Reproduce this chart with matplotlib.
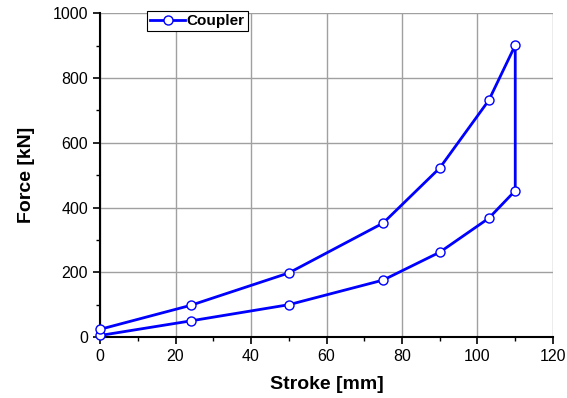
import matplotlib.pyplot as plt
from matplotlib.ticker import MultipleLocator

plt.rcParams['font.family'] = ['Liberation Sans', 'DejaVu Sans']

# loading then unloading path of the coupler
stroke = [0, 24, 50, 75, 90, 103, 110, 110, 103, 90, 75, 50, 24, 0]
force = [5, 50, 100, 176, 262, 367, 452, 901, 731, 522, 352, 198, 98, 24]

fig = plt.figure(figsize=(5.67, 3.98), dpi=100)
ax = fig.add_axes([0.1764, 0.153, 0.7989, 0.814])

ax.plot(stroke, force, color='#0000ff', lw=2.0, marker='o', ms=6.5,
        mfc='white', mec='#0000ff', mew=1.0, label='Coupler', zorder=3,
        clip_on=False)

ax.set_xlim(0, 120)
ax.set_ylim(0, 1000)
ax.xaxis.set_major_locator(MultipleLocator(20))
ax.xaxis.set_minor_locator(MultipleLocator(10))
ax.yaxis.set_major_locator(MultipleLocator(200))
ax.yaxis.set_minor_locator(MultipleLocator(100))

ax.grid(True, which='major', color='#a0a0a0', lw=1.0)
ax.set_axisbelow(True)
for s in ['top', 'right']:
    ax.spines[s].set_visible(False)
for s in ['left', 'bottom']:
    ax.spines[s].set_linewidth(1.5)

ax.tick_params(which='major', direction='out', length=5, width=1.2, labelsize=11.5)
ax.tick_params(which='minor', direction='out', length=3, width=1.0)

ax.set_xlabel('Stroke [mm]', fontsize=14, fontweight='bold', labelpad=9)
ax.set_ylabel('Force [kN]', fontsize=14, fontweight='bold', labelpad=13)

leg = ax.legend(loc='upper left', bbox_to_anchor=(0.104, 1.006), fancybox=False,
                edgecolor='black', framealpha=1, borderpad=0.2,
                handlelength=2.3, handletextpad=0.1, borderaxespad=0,
                prop={'weight': 'bold', 'size': 11})
leg.get_frame().set_linewidth(0.8)

fig.savefig('out.png', dpi=100)
